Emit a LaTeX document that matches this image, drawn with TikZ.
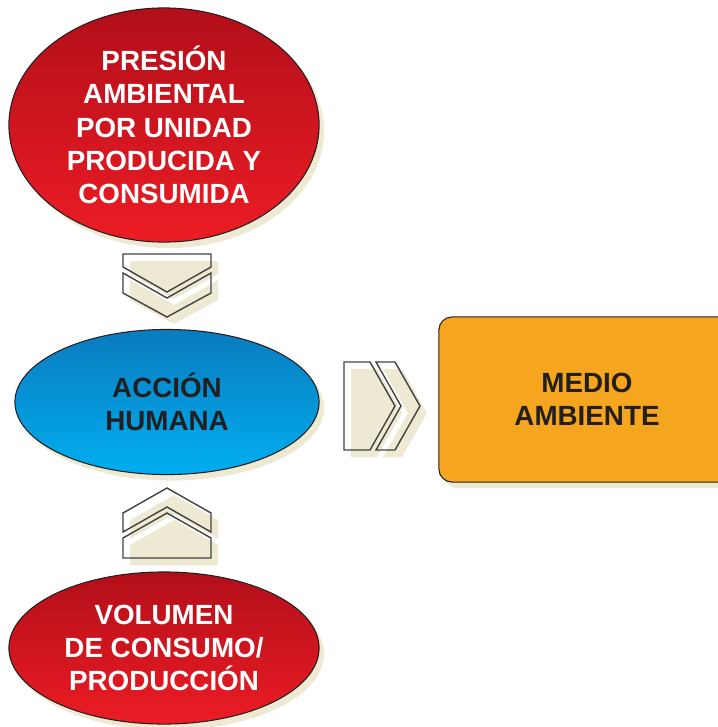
\documentclass[tikz,border=0pt]{standalone}
\usepackage{fontspec}
\setmainfont{Liberation Sans}
\usetikzlibrary{shapes.geometric,shadows}

\definecolor{rojoarriba}{HTML}{B20F1A}
\definecolor{rojoabajo}{HTML}{EC1C24}
\definecolor{azularriba}{HTML}{0A7BBF}
\definecolor{azulabajo}{HTML}{00AEEF}
\definecolor{naranja}{HTML}{F6A51E}
\definecolor{beige}{HTML}{EDE9D3}
\definecolor{tinta}{HTML}{231F20}

\begin{document}
\begin{tikzpicture}[x=0.01cm, y=-0.01cm,
	every node/.style={font=\fontsize{7.9}{9.5}\selectfont\bfseries, align=center},
	sombra/.style={general shadow={fill=beige, shadow xshift=0.05cm, shadow yshift=-0.06cm}},
	elipse/.style={ellipse, draw=tinta, line width=0.3pt, inner sep=0pt, sombra},
	rojo/.style={elipse, top color=rojoarriba, bottom color=rojoabajo, text=white},
	azul/.style={elipse, top color=azularriba, bottom color=azulabajo, text=tinta},
	caja/.style={rectangle, rounded corners=0.13cm, draw=tinta, line width=0.3pt, fill=naranja, text=tinta, sombra},
	flecha/.style={draw=tinta!85, line width=0.4pt},
	fondo/.style={fill=beige, draw=none}]
	\useasboundingbox (0,0) rectangle (717,727);

	\node (presion) at (164, 125) [rojo, minimum width=3.10cm, minimum height=2.34cm] {PRESIÓN\\AMBIENTAL\\POR UNIDAD\\PRODUCIDA Y\\CONSUMIDA};
	\node (accion) at (167, 402) [azul, minimum width=3.04cm, minimum height=1.45cm] {ACCIÓN\\HUMANA};
	\node (volumen) at (164, 648) [rojo, minimum width=3.10cm, minimum height=1.52cm] {VOLUMEN\\DE CONSUMO/\\PRODUCCIÓN};
	\node (medio) at (587, 399.5) [caja, minimum width=2.96cm, minimum height=1.65cm] {MEDIO\\AMBIENTE};

	% flechas entre los nodos
	\coordinate (baja) at (167, 254);
	\coordinate (sube) at (167, 488);
	\coordinate (va) at (344, 362);

	\begin{scope}[shift={(baja)}]
		\fill[fondo, shift={(7,7)}] (-44,0) -- (44,0) -- (44,13) -- (0,38) -- (-44,13) -- cycle;
		\fill[fondo, shift={(7,7)}] (-44,19) -- (0,44) -- (44,19) -- (44,39) -- (0,63) -- (-44,39) -- cycle;
		\draw[flecha] (-44,0) -- (44,0) -- (44,13) -- (0,38) -- (-44,13) -- cycle;
		\draw[flecha] (-44,19) -- (0,44) -- (44,19) -- (44,39) -- (0,63) -- (-44,39) -- cycle;
	\end{scope}

	\begin{scope}[shift={(sube)}]
		\fill[fondo, shift={(7,7)}] (0,0) -- (44,25) -- (44,44) -- (0,19) -- (-44,44) -- (-44,25) -- cycle;
		\fill[fondo, shift={(7,7)}] (0,25) -- (44,50) -- (44,70) -- (-44,70) -- (-44,50) -- cycle;
		\draw[flecha] (0,0) -- (44,25) -- (44,44) -- (0,19) -- (-44,44) -- (-44,25) -- cycle;
		\draw[flecha] (0,25) -- (44,50) -- (44,70) -- (-44,70) -- (-44,50) -- cycle;
	\end{scope}

	\begin{scope}[shift={(va)}]
		\fill[fondo, shift={(7,7)}] (0,0) -- (26,0) -- (51,44) -- (26,88) -- (0,88) -- cycle;
		\fill[fondo, shift={(7,7)}] (32,0) -- (51,0) -- (76,44) -- (51,88) -- (32,88) -- (57,44) -- cycle;
		\draw[flecha] (0,0) -- (26,0) -- (51,44) -- (26,88) -- (0,88) -- cycle;
		\draw[flecha] (32,0) -- (51,0) -- (76,44) -- (51,88) -- (32,88) -- (57,44) -- cycle;
	\end{scope}
\end{tikzpicture}
\end{document}
